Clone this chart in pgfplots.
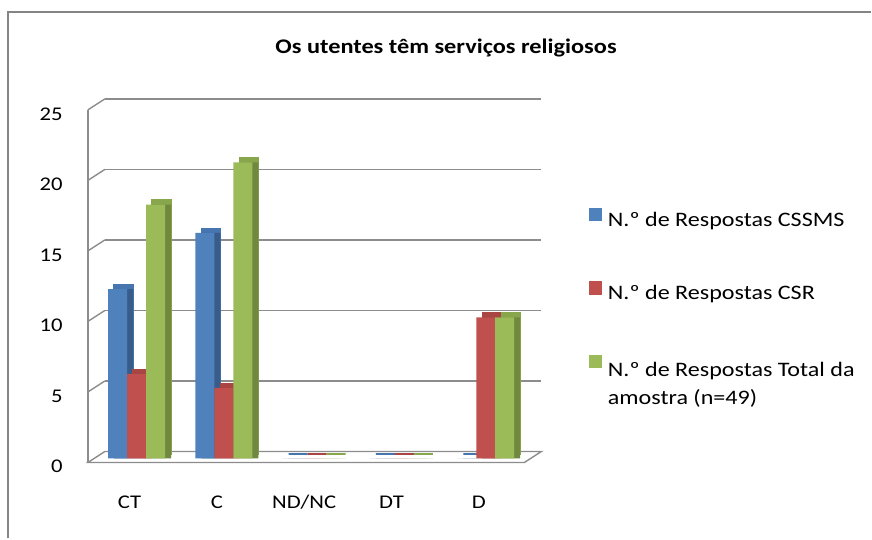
\documentclass[border=0pt]{standalone}
\usepackage{fontspec}
\setmainfont{Carlito}[FakeStretch=1.17]
\usepackage{pgfplots}
\usepackage{pgfplotstable}
\pgfplotsset{compat=1.18}
\definecolor{cblue}{HTML}{4F81BD}
\definecolor{cbluedk}{HTML}{385D8A}
\definecolor{cbluetp}{HTML}{4675B0}
\definecolor{cred}{HTML}{C0504D}
\definecolor{credk}{HTML}{8C3836}
\definecolor{credtp}{HTML}{A94542}
\definecolor{cgreen}{HTML}{9BBB59}
\definecolor{cgreendk}{HTML}{71893F}
\definecolor{cgreentp}{HTML}{88A64C}
\definecolor{gridc}{HTML}{8C8C8C}
\definecolor{framec}{HTML}{858585}

\pgfplotstableread{
x blue red green
0 12 6 18
1 16 5 21
2 0 0 0
3 0 0 0
4 0 10 10
}\datatable

\pgfplotsset{
  bar3d/.style={ybar, bar width=9.5pt, forget plot},
  topface/.style 2 args={bar3d, bar shift=#1, xshift=-3pt, yshift=-1.25pt, fill=#2, draw=#2, line width=0.7pt},
  sideface/.style 2 args={bar3d, bar shift=#1, xshift=-3pt, yshift=-3.5pt, fill=#2, draw=none},
  frontface/.style 2 args={bar3d, bar shift=#1, xshift=-6pt, yshift=-3.5pt, fill=#2, draw=none},
}

\begin{document}
\begin{tikzpicture}
\path (0pt,0pt) rectangle (436pt,-269.5pt);
\draw[framec, line width=1pt] (4.1pt,-269.5pt) -- (4.1pt,-6.2pt) -- (436pt,-6.2pt);
\node[font=\bfseries\fontsize{10.4}{12}\selectfont, anchor=base] at (223.3pt,-27pt) {Os utentes têm serviços religiosos};
\begin{axis}[
  set layers=standard,
  at={(52.5pt,-226pt)}, anchor=south west,
  scale only axis, width=218.5pt, height=176.5pt,
  xmin=-0.5, xmax=4.5, ymin=0, ymax=25,
  clip=false,
  axis line style={draw=none},
  tick style={draw=none},
  ymajorgrids, grid style={gridc, line width=0.7pt},
  xtick={0,1,2,3,4}, xticklabels={CT,C,ND/NC,DT,D},
  ytick={0,5,10,15,20,25},
  /pgf/number format/assume math mode=true,
  tick label style={font=\fontsize{9.7}{11}\selectfont},
  xticklabel style={anchor=base, inner sep=0pt, xshift=-9.5pt, yshift=-28.75pt},
  yticklabel style={anchor=base east, inner sep=0pt, xshift=-21pt, yshift=-10.75pt},
  legend style={at={(1.1076,0.6923)}, anchor=north west, draw=none, fill=none,
    inner sep=0pt, row sep=26pt, font=\fontsize{10.3}{14}\selectfont,
    nodes={inner sep=0pt}, column sep=3pt},
  legend cell align=left,
]
% floor and left wall
\begin{pgfonlayer}{axis background}
\draw[gridc, line width=0.7pt, fill=white] (axis cs:-0.5,0) -- (axis cs:4.5,0) -- ++(-8.5pt,-5.5pt)
   -- ([shift={(-8.5pt,-5.5pt)}]axis cs:-0.5,0) -- cycle;
\draw[gridc, line width=0.7pt] ([shift={(-8.5pt,-5.5pt)}]axis cs:-0.5,0) -- ([shift={(-8.5pt,-5.5pt)}]axis cs:-0.5,25);
\pgfplotsinvokeforeach{5,10,15,20,25}{
  \draw[gridc, line width=0.7pt] (axis cs:-0.5,#1) -- ++(-8.5pt,-5.5pt);
}
\end{pgfonlayer}

\addplot[topface={-9.5pt}{cbluetp}] table[x=x,y=blue]{\datatable};
\addplot[sideface={-9.5pt}{cbluedk}] table[x=x,y=blue]{\datatable};
\addplot[frontface={-9.5pt}{cblue}] table[x=x,y=blue]{\datatable};
\addplot[topface={0pt}{credtp}] table[x=x,y=red]{\datatable};
\addplot[sideface={0pt}{credk}] table[x=x,y=red]{\datatable};
\addplot[frontface={0pt}{cred}] table[x=x,y=red]{\datatable};
\addplot[topface={9.5pt}{cgreentp}] table[x=x,y=green]{\datatable};
\addplot[sideface={9.5pt}{cgreendk}] table[x=x,y=green]{\datatable};
\addplot[frontface={9.5pt}{cgreen}] table[x=x,y=green]{\datatable};

\addlegendimage{legend image code/.code={\fill[cblue] (0pt,-0.1pt) rectangle (6.2pt,6.2pt);}}
\addlegendentry{N.º de Respostas CSSMS}
\addlegendimage{legend image code/.code={\fill[cred] (0pt,-0.1pt) rectangle (6.2pt,6.2pt);}}
\addlegendentry{N.º de Respostas CSR}
\addlegendimage{legend image code/.code={\fill[cgreen] (0pt,-0.1pt) rectangle (6.2pt,6.2pt);}}
\addlegendentry{\parbox[t]{130pt}{\rule{0pt}{10.7pt}N.º de Respostas Total da\\amostra (n=49)}}
\end{axis}
\end{tikzpicture}
\end{document}
